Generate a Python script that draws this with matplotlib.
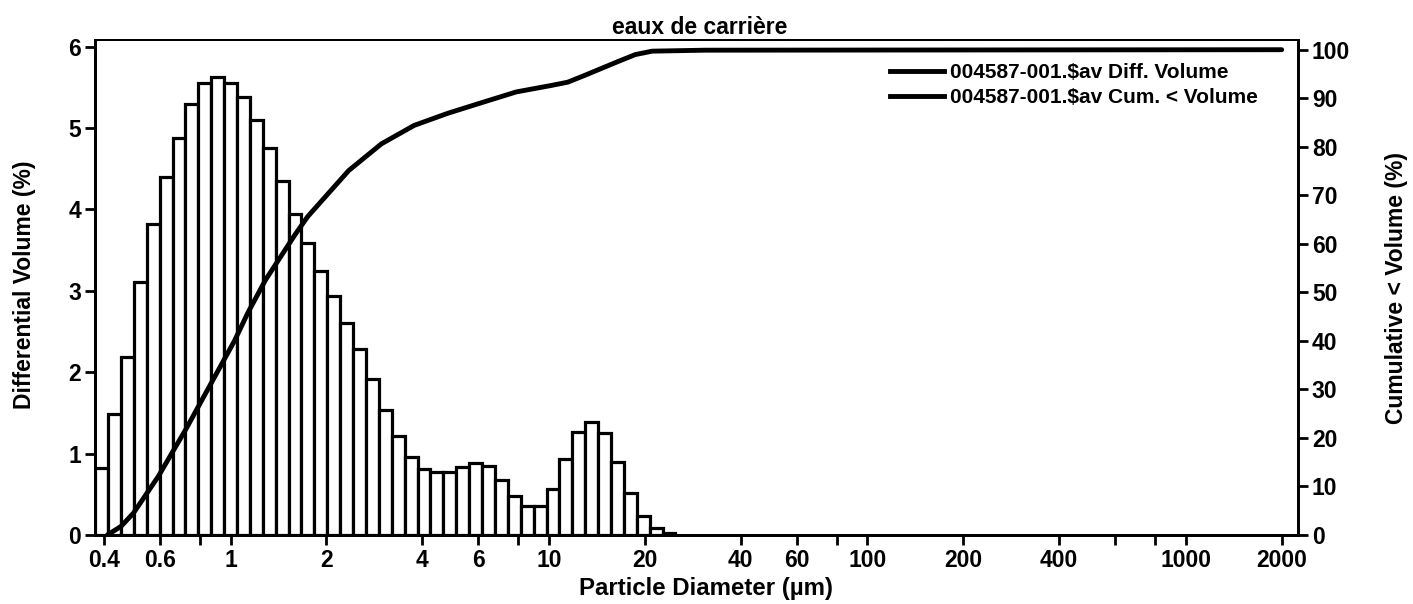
import matplotlib
matplotlib.use("Agg")
import numpy as np
import matplotlib.pyplot as plt
from matplotlib.lines import Line2D
from matplotlib.ticker import FixedLocator, FixedFormatter, NullLocator

plt.rcParams['font.family'] = ['Liberation Sans', 'DejaVu Sans']

# ---- data ----
bin_edges = [0.375, 0.412, 0.452, 0.496, 0.545, 0.598, 0.657, 0.721, 0.791, 0.868,
             0.953, 1.047, 1.149, 1.261, 1.385, 1.520, 1.669, 1.832, 2.011, 2.208,
             2.423, 2.660, 2.920, 3.206, 3.519, 3.863, 4.241, 4.656, 5.111, 5.611,
             6.159, 6.761, 7.422, 8.148, 8.944, 9.819, 10.78, 11.83, 12.99, 14.26,
             15.65, 17.18, 18.86, 20.71, 22.73, 24.95]
diff_volume = [0.82, 1.49, 2.19, 3.11, 3.82, 4.40, 4.88, 5.30, 5.55, 5.63,
               5.55, 5.38, 5.10, 4.75, 4.35, 3.94, 3.59, 3.24, 2.93, 2.61,
               2.28, 1.91, 1.54, 1.21, 0.96, 0.81, 0.77, 0.77, 0.84, 0.88,
               0.85, 0.68, 0.48, 0.36, 0.36, 0.57, 0.93, 1.26, 1.39, 1.25,
               0.90, 0.51, 0.23, 0.08, 0.025]
cum_diam = [0.41, 0.453, 0.495, 0.593, 0.725, 0.886, 1.028, 1.135, 1.288, 1.59,
            1.745, 2.241, 2.349, 2.975, 3.77, 4.81, 6.15, 7.89, 10.1, 11.44,
            12.93, 16.52, 18.67, 21.08, 30.9, 2000]
cum_volume = [0.0, 1.8, 4.5, 12.1, 21.9, 32.3, 40.0, 45.9, 52.6, 61.8,
              65.6, 73.6, 75.1, 80.6, 84.4, 86.9, 89.1, 91.3, 92.6, 93.3,
              94.7, 97.6, 99.0, 99.7, 99.9, 100.0]

x_ticks = [0.4, 0.6, 0.8, 1, 2, 4, 6, 8, 10, 20, 40, 60, 80, 100, 200, 400, 600, 800, 1000, 2000]
x_tick_labels = ['0.4', '0.6', '', '1', '2', '4', '6', '', '10', '20', '40', '60', '',
                 '100', '200', '400', '', '', '1000', '2000']
left_ticks = [0, 1, 2, 3, 4, 5, 6]
right_ticks = [0, 10, 20, 30, 40, 50, 60, 70, 80, 90, 100]

title = 'eaux de carrière'
x_label = 'Particle Diameter (µm)'
left_label = 'Differential Volume (%)'
right_label = 'Cumulative < Volume (%)'
legend_labels = ['004587-001.$av Diff. Volume', '004587-001.$av Cum. < Volume']

# ---- figure ----
W, H = 1413, 604
fig = plt.figure(figsize=(W / 100, H / 100), dpi=100)
ax = fig.add_axes([95 / W, 1 - 535 / H, (1298 - 95) / W, (535 - 40) / H])

lefts = np.array(bin_edges[:-1])
widths = np.diff(bin_edges)
ax.bar(lefts, diff_volume, width=widths, align='edge', facecolor='white',
       edgecolor='black', linewidth=2.3, zorder=2)
ax.set_xscale('log')
ax.set_xlim(0.375, 2250)
ax.set_ylim(0, 6.08)

ax2 = ax.twinx()
ax2.plot(cum_diam, cum_volume, color='black', lw=3.5, solid_capstyle='round',
         solid_joinstyle='round', zorder=3)
ax2.set_ylim(0, 102)
ax2.set_xlim(0.375, 2250)

tick_font = dict(fontsize=16.5, fontweight='bold')
ax.xaxis.set_major_locator(FixedLocator(x_ticks))
ax.xaxis.set_major_formatter(FixedFormatter(x_tick_labels))
ax.xaxis.set_minor_locator(NullLocator())
ax.set_yticks(left_ticks)
ax.set_yticklabels([str(v) for v in left_ticks], **tick_font)
ax2.set_yticks(right_ticks)
ax2.set_yticklabels([str(v) for v in right_ticks], **tick_font)
for lab in ax.get_xticklabels():
    lab.set_fontsize(16.5)
    lab.set_fontweight('bold')

ax.tick_params(axis='both', direction='out', length=7, width=2, pad=3, colors='black')
ax2.tick_params(axis='y', direction='out', length=7, width=2, pad=3)

for a in (ax, ax2):
    for s in a.spines.values():
        s.set_linewidth(2)
    a.spines['top'].set_linewidth(1.4)

fig.text(700 / W, 1 - 28 / H, title, ha='center', va='center', fontsize=16.5, fontweight='bold')
fig.text(706 / W, 1 - 588 / H, x_label, ha='center', va='center', fontsize=17.3, fontweight='bold')
fig.text(25 / W, 1 - 285 / H, left_label, ha='center', va='center', rotation=90,
         fontsize=16.5, fontweight='bold')
fig.text(1397 / W, 1 - 288 / H, right_label, ha='center', va='center', rotation=90,
         fontsize=16.5, fontweight='bold')

handles = [Line2D([], [], color='black', lw=3.5), Line2D([], [], color='black', lw=3.5)]
ax2.legend(handles, legend_labels, loc='upper right', bbox_to_anchor=(1258 / W, 1 - 63 / H),
           bbox_transform=fig.transFigure, frameon=False, prop=dict(size=15, weight='bold'),
           handlelength=2.6, handletextpad=0.3, labelspacing=0.3, borderaxespad=0, borderpad=0)

fig.savefig('out.png', dpi=100, facecolor='white')
